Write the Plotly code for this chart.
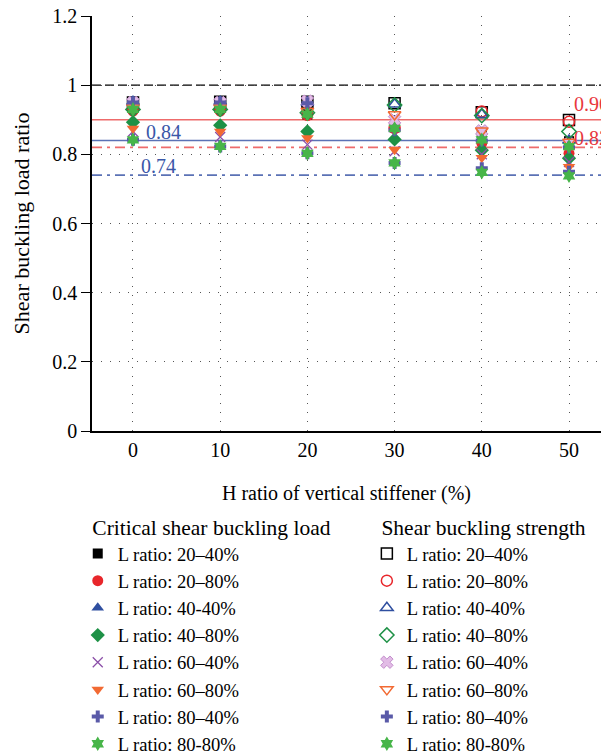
import plotly.graph_objects as go

# H ratio of the vertical stiffener (%)
h_ratio = [0, 10, 20, 30, 40, 50]

series_names = [
    "L ratio: 20–40%", "L ratio: 20–80%", "L ratio: 40-40%", "L ratio: 40–80%",
    "L ratio: 60–40%", "L ratio: 60–80%", "L ratio: 80–40%", "L ratio: 80-80%",
]

# Critical shear buckling load ratio (filled markers)
load_20_40 = [0.945, 0.945, 0.915, 0.878, 0.865, 0.838]
load_20_80 = [0.925, 0.925, 0.912, 0.876, 0.832, 0.803]
load_40_40 = [0.945, 0.948, 0.940, 0.876, 0.845, 0.830]
load_40_80 = [0.893, 0.884, 0.866, 0.843, 0.812, 0.789]
load_60_40 = [0.866, 0.850, 0.828, 0.809, 0.800, 0.778]
load_60_80 = [0.875, 0.866, 0.847, 0.813, 0.790, 0.764]
load_80_40 = [0.842, 0.823, 0.803, 0.775, 0.760, 0.750]
load_80_80 = [0.842, 0.823, 0.803, 0.775, 0.748, 0.738]

# Shear buckling strength ratio (open markers)
str_20_40 = [0.950, 0.952, 0.952, 0.948, 0.922, 0.899]
str_20_80 = [0.930, 0.930, 0.918, 0.876, 0.924, 0.894]
str_40_40 = [0.952, 0.952, 0.950, 0.945, 0.915, 0.840]
str_40_80 = [0.930, 0.930, 0.920, 0.943, 0.912, 0.866]
str_60_40 = [0.950, 0.950, 0.954, 0.900, 0.868, 0.830]
str_60_80 = [0.935, 0.935, 0.925, 0.915, 0.868, 0.836]
str_80_40 = [0.950, 0.950, 0.948, 0.870, 0.840, 0.820]
str_80_80 = [0.930, 0.930, 0.916, 0.875, 0.842, 0.822]

load_series = [load_20_40, load_20_80, load_40_40, load_40_80,
               load_60_40, load_60_80, load_80_40, load_80_80]
strength_series = [str_20_40, str_20_80, str_40_40, str_40_80,
                   str_60_40, str_60_80, str_80_40, str_80_80]

# Reference levels
unity_level = 1.0
strength_mean = 0.90
strength_min = 0.82
load_mean = 0.84
load_min = 0.74

FONT = "Liberation Serif"
RED = "#e8262b"
BLUE = "#2f4fa0"
GREEN = "#1e9146"
PURPLE = "#8b4fa8"
ORANGE = "#f26a33"
PLUS_BLUE = "#5a5aa8"
STAR_GREEN = "#47b549"
LINE_RED = "#ee6b6b"
LINE_BLUE = "#5b72b5"

load_styles = [
    dict(symbol="square", color="black", size=10),
    dict(symbol="circle", color=RED, size=11),
    dict(symbol="triangle-up", color=BLUE, size=11),
    dict(symbol="diamond", color=GREEN, size=11),
    dict(symbol="x-thin-open", color=PURPLE, size=10, line=dict(color=PURPLE, width=1.3)),
    dict(symbol="triangle-down", color=ORANGE, size=11),
    dict(symbol="cross", color=PLUS_BLUE, size=10),
    dict(symbol="hexagram", color=STAR_GREEN, size=11),
]
strength_styles = [
    dict(symbol="square-open", color="black", size=11, line=dict(width=1.5)),
    dict(symbol="circle-open", color=RED, size=11, line=dict(width=1.5)),
    dict(symbol="triangle-up-open", color=BLUE, size=11, line=dict(width=1.5)),
    dict(symbol="diamond-open", color=GREEN, size=11, line=dict(width=1.5)),
    dict(symbol="x", color="#e2bce6", size=11, line=dict(color="#c48fcc", width=1)),
    dict(symbol="triangle-down-open", color=ORANGE, size=11, line=dict(width=1.5)),
    dict(symbol="cross", color=PLUS_BLUE, size=10),
    dict(symbol="hexagram", color=STAR_GREEN, size=11),
]

fig = go.Figure()

for name, vals, st in zip(series_names, load_series, load_styles):
    fig.add_trace(go.Scatter(x=h_ratio, y=vals, mode="markers", name=name,
                             marker=st, legend="legend", cliponaxis=False))
for name, vals, st in zip(series_names, strength_series, strength_styles):
    fig.add_trace(go.Scatter(x=h_ratio, y=vals, mode="markers", name=name,
                             marker=st, legend="legend2", cliponaxis=False))

# Horizontal reference lines
ref_lines = [
    (unity_level, "black", "9px,4px", 1.2),
    (strength_mean, LINE_RED, "solid", 1.6),
    (load_mean, LINE_BLUE, "solid", 1.6),
    (strength_min, LINE_RED, "10px,5px,3px,5px", 1.6),
    (load_min, LINE_BLUE, "10px,5px,3px,5px", 1.6),
]
for yv, col, dash, w in ref_lines:
    fig.add_shape(type="line", xref="paper", yref="y", x0=0, x1=1, y0=yv, y1=yv,
                  line=dict(color=col, width=w, dash=dash), layer="below")

# Value labels for the reference levels: (x position, level, colour, vertical shift)
labels = [
    (1.3, load_mean, "#3a57a8", -4),
    (0.7, load_min, "#3a57a8", -4),
    (50.4, strength_mean, "#e8383d", 3),
    (50.4, strength_min, "#e8383d", -4),
]
for xv, yv, col, dy in labels:
    fig.add_annotation(x=xv, y=yv, text=f"{yv:.2f}", showarrow=False,
                       xanchor="left", yanchor="bottom", yshift=dy,
                       font=dict(family=FONT, size=20, color=col))

legend_common = dict(
    font=dict(family=FONT, size=18.6, color="black"),
    bgcolor="rgba(0,0,0,0)", yanchor="top", y=-0.183, xanchor="left",
    itemclick=False, tracegroupgap=0,
)

INDENT = "\u2002\u200a"

fig.update_layout(
    width=601, height=756,
    margin=dict(l=92, r=0, t=16, b=325, autoexpand=False),
    plot_bgcolor="white", paper_bgcolor="white",
    font=dict(family=FONT, size=20, color="black"),
    xaxis=dict(
        range=[-4.7, 53.67], tickvals=h_ratio, showline=True, linecolor="black",
        linewidth=1.5, ticks="", zeroline=False, automargin=False,
        showgrid=True, gridcolor="#555555", griddash="1px,8px", gridwidth=1,
        title=dict(text="H ratio of vertical stiffener (%)", standoff=26,
                   font=dict(family=FONT, size=20)),
        tickfont=dict(family=FONT, size=20),
    ),
    yaxis=dict(
        range=[0, 1.2], tickvals=[0, 0.2, 0.4, 0.6, 0.8, 1, 1.2],
        ticktext=["0", "0.2", "0.4", "0.6", "0.8", "1", "1.2"],
        showline=True, linecolor="black", linewidth=1.5, ticks="outside",
        ticklen=9, tickcolor="black", zeroline=False, automargin=False,
        showgrid=True, gridcolor="#555555", griddash="1px,8px", gridwidth=1,
        title=dict(text="Shear buckling load ratio", standoff=17,
                   font=dict(family=FONT, size=22)),
        tickfont=dict(family=FONT, size=20),
    ),
    legend=dict(x=-0.028, title=dict(text=INDENT + "Critical shear buckling load",
                                     font=dict(family=FONT, size=21.5)),
                **legend_common),
    legend2=dict(x=0.54, title=dict(text=INDENT + "Shear buckling strength",
                                    font=dict(family=FONT, size=21.5)),
                 **legend_common),
    showlegend=True,
)

fig.write_html("out.html")
